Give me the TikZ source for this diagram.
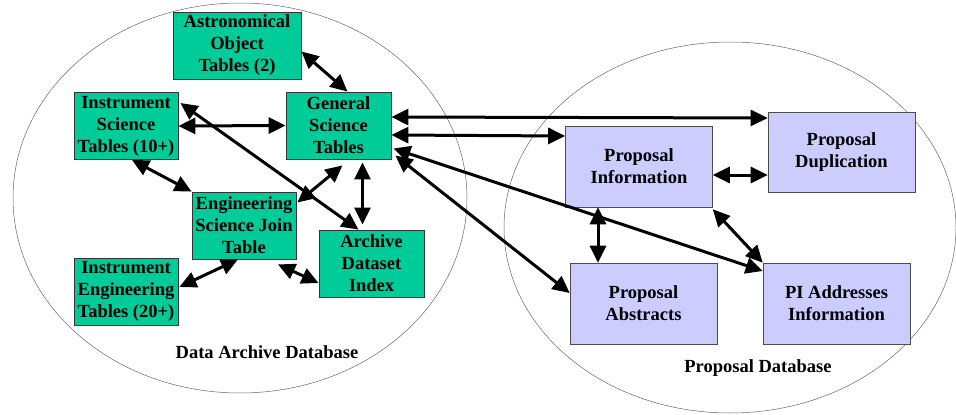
\documentclass[tikz,border=0pt]{standalone}
\usepackage{fontspec}
\setmainfont{Liberation Serif}
\usetikzlibrary{arrows.meta}

\definecolor{tablegreen}{RGB}{0,204,153}
\definecolor{proplilac}{RGB}{204,204,255}

\begin{document}
\begin{tikzpicture}[x=1pt, y=-1pt,
  >={Triangle[length=17pt, width=16pt]},
  greenbox/.style={draw=black!80, fill=tablegreen, line width=0.8pt, align=center,
    minimum width=104pt, minimum height=67pt, inner sep=0pt,
    font=\bfseries\fontsize{18.5}{22}\selectfont},
  lilacbox/.style={draw=black!70, fill=proplilac, line width=0.6pt, align=center,
    minimum width=147pt, minimum height=81pt, inner sep=0pt,
    font=\bfseries\fontsize{18.5}{22}\selectfont},
  dblink/.style={line width=3pt, <->},
  dbname/.style={font=\bfseries\fontsize{18.5}{22}\selectfont},
  dbrim/.style={draw=black!60, line width=0.5pt}]
\def \xleft   {240};
\def \yleft   {198};
\def \xright  {730};
\def \yright  {227.5};

\useasboundingbox (0,0) rectangle (956,415);

% the two databases
\draw[dbrim] (\xleft, \yleft) ellipse [x radius=227pt, y radius=195pt];
\draw[dbrim] (\xright, \yright) ellipse [x radius=226pt, y radius=185.5pt];

\node [dbname] (dalabel) at (267, 352) {Data Archive Database};
\node [dbname] (pdlabel) at (758, 368) {Proposal Database};

% data archive tables
\node [greenbox, minimum width=128pt] (astro) at (237, 45.5) {Astronomical\\Object\\Tables (2)};
\node [greenbox] (instsci) at (126, 126) {Instrument\\Science\\Tables (10+)};
\node [greenbox, minimum width=105pt] (gensci) at (338.5, 125.5) {General\\Science\\Tables};
\node [greenbox] (engjoin) at (244, 225.5) {Engineering\\Science Join\\Table};
\node [greenbox, minimum width=105pt] (archidx) at (371.5, 263.5) {Archive\\Dataset\\Index};
\node [greenbox] (insteng) at (126, 291.5) {Instrument\\Engineering\\Tables (20+)};

% proposal tables
\node [lilacbox] (propinfo) at (639, 166.5) {Proposal\\Information};
\node [lilacbox, minimum height=80pt] (propdup) at (841.5, 152) {Proposal\\Duplication};
\node [lilacbox] (propabs) at (643.5, 303.5) {Proposal\\Abstracts};
\node [lilacbox] (piaddr) at (836.5, 303.5) {PI Addresses\\Information};

% links inside the archive
\draw [dblink] ([yshift=-6pt]astro.east) -- ([xshift=9pt]gensci.north);
\draw [dblink] (instsci.east) -- (gensci.west);
\draw [dblink] ([xshift=6pt]instsci.south) -- (engjoin.north west);
\draw [dblink] ([yshift=23pt, xshift=2pt]instsci.east) -- ([xshift=-13pt]archidx.north);
\draw [dblink] ([yshift=23pt, xshift=1pt]engjoin.east) -- ([xshift=4pt, yshift=-6pt]gensci.south);
\draw [dblink] ([xshift=24pt, yshift=-3pt]gensci.south) -- ([xshift=-9pt, yshift=5pt]archidx.north);
\draw [dblink] ([yshift=4.5pt, xshift=1pt]insteng.east) -- ([xshift=-6pt]engjoin.south);
\draw [dblink] ([xshift=34pt, yshift=-5pt]engjoin.south) -- ([yshift=-19.5pt]archidx.west);

% links to the proposal database
\draw [dblink] ([yshift=8.5pt]gensci.east) -- ([yshift=34pt]propdup.west);
\draw [dblink] ([yshift=-9.5pt]gensci.east) -- ([yshift=30.5pt]propinfo.west);
\draw [dblink] ([yshift=-23pt, xshift=2pt]gensci.east) -- ([yshift=32.5pt]piaddr.west);
\draw [dblink] ([yshift=-30pt, xshift=4pt]gensci.east) -- ([yshift=10.5pt]propabs.west);

% links inside the proposal database
\draw [dblink] ([yshift=-8.5pt]propinfo.east) -- ([yshift=-23pt]propdup.west);
\draw [dblink] ([xshift=-41pt]propinfo.south) -- ([xshift=-45.5pt]propabs.north);
\draw [dblink] ([yshift=-2pt]propinfo.south east) -- (piaddr.north west);

\end{tikzpicture}
\end{document}
